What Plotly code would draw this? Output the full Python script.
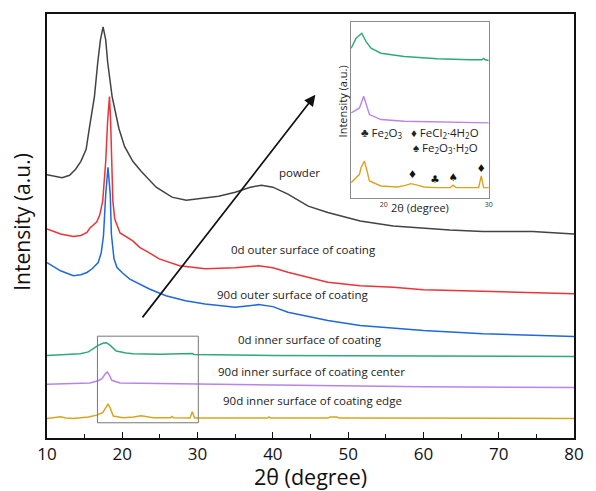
import plotly.graph_objects as go

# ---------------- main pattern data (2theta in degree, intensity in a.u.) ----------------
powder_x = [10, 11, 12, 13, 13.8, 14.5, 15.2, 15.6, 16.3, 16.75, 17.1, 17.45, 17.8, 18.05, 18.65,
            19.55, 20.3, 21.4, 22.5, 24.5, 26.6, 28.5, 30.2, 32.8, 35, 37, 38.5, 40, 42, 44.7,
            47.3, 51.6, 56, 60, 63.5, 67.9, 74.5, 80]
powder_y = [264.5, 263, 261.5, 264, 270, 278, 290, 310, 343, 378, 400, 413, 400, 378, 343,
            311, 293, 278, 268, 252, 242, 239, 240.5, 243, 247, 252, 254, 252, 245, 233,
            226.5, 218, 213, 210.5, 209, 207.5, 207.5, 205]

outer0_x = [10, 11, 11.8, 13.5, 14.5, 15.3, 15.7, 16.6, 17.0, 17.4, 17.8, 18.05, 18.3, 18.45,
            18.6, 18.75, 19.0, 19.4, 19.7, 21.4, 22.3, 23.6, 24.9, 27.6, 31, 35, 38.1, 40, 42,
            47.3, 51.6, 56, 60, 67.9, 80]
outer0_y = [210, 207, 205, 202.5, 203.5, 206.5, 211, 217, 224, 238, 278, 318, 343, 318,
            278, 238, 220, 212, 206, 198, 191.5, 186, 180, 173, 170, 171, 173, 171, 166.5,
            156.5, 153, 151.5, 149, 147.5, 145]

outer90_x = [10, 11, 11.8, 13.5, 14.5, 15.3, 16, 16.8, 17.2, 17.5, 17.8, 18.1, 18.4, 18.55,
             18.9, 19.3, 20, 21, 23.6, 25.8, 28.4, 31, 35, 38.1, 40, 42, 47.3, 51.6, 56, 60,
             67.9, 80]
outer90_y = [176.3, 172, 168, 163, 164, 166.3, 170, 176.3, 186, 203, 245, 272, 245, 205,
             180, 171.3, 166, 159.7, 149.7, 143, 138, 134.7, 131.3, 134, 132, 126.3, 118, 113,
             110.7, 108, 104.7, 102]

inner0_x = [10, 12, 14.4, 15.5, 16.1, 16.8, 17.5, 17.9, 18.4, 19.2, 20.5, 21.4, 25, 29.1,
            29.3, 29.5, 40, 60, 80]
inner0_y = [83, 83.5, 84.7, 86.5, 89.7, 93, 95.5, 95.7, 93, 87.3, 85.5, 84.7, 84.2, 84.3,
            85, 84, 83, 82.5, 82]

center90_x = [10, 14, 15.7, 16.8, 17.3, 17.7, 18.0, 18.3, 18.6, 19.7, 26.7, 40, 60, 80]
center90_y = [54, 54.5, 55.3, 57.5, 59.7, 64, 66.3, 63, 58, 55.3, 54.7, 53, 51.5, 50.7]

edge90_x = [10, 11.3, 11.8, 12.5, 13.5, 15.5, 16.6, 17.4, 17.8, 18.1, 18.4, 18.8, 20.1, 21.5,
            22.5, 23.3, 24.1, 26.4, 26.6, 26.8, 29.0, 29.3, 29.6, 39.3, 39.5, 39.7, 47.3,
            47.6, 48.5, 48.8, 80]
edge90_y = [19.7, 20.5, 21.3, 20, 19.7, 21, 23, 25.5, 31, 34, 30, 22, 20.3, 21,
            22.3, 21, 20.3, 20.3, 21.7, 20.3, 20, 26.3, 20, 20, 21.2, 20, 20,
            21, 21, 20, 19.7]

# ---------------- inset data (17-30 degree zoom) ----------------
in_green_x = [16.91, 17.38, 17.92, 18.33, 18.8, 19.74, 21.96, 25.1, 28.26, 29.37, 29.52, 29.68, 30]
in_green_y = [150, 160, 165, 156.7, 150, 145, 141.7, 139.4, 138.4, 138.4, 139.7, 138.4, 137.7]

in_purple_x = [16.91, 17.7, 18.1, 18.65, 19.74, 21.96, 30]
in_purple_y = [85, 90, 101.7, 83.4, 78.4, 76.7, 75]

in_gold_x = [16.91, 17.7, 17.85, 18.17, 18.42, 18.65, 19.74, 21.3, 22.0, 22.6, 23.2, 23.85,
             24.95, 26.37, 26.6, 26.9, 29.05, 29.3, 29.52, 30]
in_gold_y = [15, 23.4, 30, 36.7, 26.7, 16.7, 11.7, 10.7, 12, 14, 12.5, 10.7,
             10, 10, 12.4, 10, 10, 21.7, 10, 10]

phase_marks = ["\u2666", "\u2663", "\u2660", "\u2666"]
phase_x = [22.74, 24.89, 26.62, 29.3]
phase_y = [22.7, 17.7, 19.4, 28.4]

labels = ["powder", "0d outer surface of coating", "90d outer surface of coating",
          "0d inner surface of coating", "90d inner surface of coating center",
          "90d inner surface of coating edge"]
label_x = [43.6, 44.1, 42.65, 44.9, 45.07, 45.3]
label_y = [266.3, 189.7, 144, 98.7, 67.3, 37.3]

main_ticks = [10, 20, 30, 40, 50, 60, 70, 80]

colors = ["#434343", "#ec3438", "#1f68dd", "#2fa87a", "#b884ea", "#d9a51f"]
FONT = "Open Sans"

fig = go.Figure()
series = [(powder_x, powder_y), (outer0_x, outer0_y), (outer90_x, outer90_y),
          (inner0_x, inner0_y), (center90_x, center90_y), (edge90_x, edge90_y)]
for (xs, ys), c, name in zip(series, colors, labels):
    fig.add_trace(go.Scatter(x=xs, y=ys, mode="lines", name=name,
                             line=dict(color=c, width=1.5), showlegend=False,
                             xaxis="x", yaxis="y"))

for xs, ys, c in [(in_green_x, in_green_y, colors[3]), (in_purple_x, in_purple_y, colors[4]),
                  (in_gold_x, in_gold_y, colors[5])]:
    fig.add_trace(go.Scatter(x=xs, y=ys, mode="lines", line=dict(color=c, width=1.4),
                             showlegend=False, xaxis="x2", yaxis="y2"))

fig.add_trace(go.Scatter(x=phase_x, y=phase_y, mode="text", text=phase_marks,
                         textfont=dict(size=10.5, color="#111", family="DejaVu Sans"),
                         showlegend=False, xaxis="x2", yaxis="y2"))

annotations = []
for t, xx, yy in zip(labels, label_x, label_y):
    annotations.append(dict(x=xx, y=yy, xref="x", yref="y", text=t, showarrow=False,
                            xanchor="center", yanchor="middle",
                            font=dict(family=FONT, size=11.5, color="#222")))

# arrow
annotations.append(dict(x=45.65, y=344.8, ax=22.53, ay=119.7, xref="x", yref="y",
                        axref="x", ayref="y", showarrow=True, arrowhead=2, arrowsize=1.3,
                        arrowwidth=1.7, arrowcolor="#111", text=""))

# axis titles
annotations.append(dict(x=0.5, y=0, xref="paper", yref="paper", xanchor="center",
                        yanchor="middle", yshift=-38, text="2\u03b8 (degree)", showarrow=False,
                        font=dict(family=FONT, size=21.5, color="#111")))
annotations.append(dict(x=0, y=0.51, xref="paper", yref="paper", xanchor="center",
                        yanchor="middle", xshift=-25, text="Intensity (a.u.)", textangle=-90,
                        showarrow=False, font=dict(family=FONT, size=21, color="#111")))

# inset titles and phase legend
annotations.append(dict(x=0.7087, y=0.543, xref="paper", yref="paper", xanchor="center",
                        yanchor="middle", text="2\u03b8 (degree)", showarrow=False,
                        font=dict(family=FONT, size=11, color="#222")))
annotations.append(dict(x=0.561, y=0.793, xref="paper", yref="paper", xanchor="center",
                        yanchor="middle", text="Intensity (a.u.)", textangle=-90,
                        showarrow=False, font=dict(family=FONT, size=11, color="#222")))
annotations.append(dict(x=(361 - 47) / 531, y=(438 - 131.7) / 426, xref="paper", yref="paper",
                        xanchor="left", yanchor="middle", showarrow=False,
                        text="\u2663 Fe<sub>2</sub>O<sub>3</sub>",
                        font=dict(family=FONT, size=11.5, color="#222")))
annotations.append(dict(x=(412 - 47) / 531, y=(438 - 131.7) / 426, xref="paper", yref="paper",
                        xanchor="left", yanchor="middle", showarrow=False,
                        text="\u2666 FeCl<sub>2</sub>\u00b74H<sub>2</sub>O",
                        font=dict(family=FONT, size=11.5, color="#222")))
annotations.append(dict(x=(414 - 47) / 531, y=(438 - 146.7) / 426, xref="paper", yref="paper",
                        xanchor="left", yanchor="middle", showarrow=False,
                        text="\u2660 Fe<sub>2</sub>O<sub>3</sub>\u00b7H<sub>2</sub>O",
                        font=dict(family=FONT, size=11.5, color="#222")))

fig.update_layout(
    width=596, height=491,
    margin=dict(l=47, r=18, t=12, b=53),
    paper_bgcolor="white", plot_bgcolor="white",
    font=dict(family=FONT, color="#111"),
    xaxis=dict(range=[10, 80], tickvals=main_ticks, ticks="inside", ticklen=6, tickwidth=1.3,
               tickcolor="#111", showline=True, linecolor="#111", linewidth=1.5, mirror=True,
               showgrid=False, zeroline=False, tickfont=dict(size=17, family=FONT, color="#111"),
               minor=dict(dtick=5, tick0=10, ticks="inside", ticklen=4, tickwidth=1.2,
                          tickcolor="#111", showgrid=False)),
    yaxis=dict(range=[0, 426], showticklabels=False, ticks="", showline=True, linecolor="#111",
               linewidth=1.5, mirror=True, showgrid=False, zeroline=False),
    xaxis2=dict(domain=[0.577, 0.839], anchor="y2", range=[16.9, 30.05], tickvals=[20, 30],
                ticks="", showline=True, linecolor="#8a8a8a", linewidth=1, mirror=True,
                showgrid=False, zeroline=False, tickfont=dict(size=7, family=FONT, color="#333")),
    yaxis2=dict(domain=[0.567, 0.982], anchor="x2", range=[0, 176.7], showticklabels=False,
                ticks="", showline=True, linecolor="#8a8a8a", linewidth=1, mirror=True,
                showgrid=False, zeroline=False),
    shapes=[dict(type="rect", xref="x", yref="y", x0=16.7, x1=30.1, y0=15.3, y1=102.3,
                 line=dict(color="#777", width=1))],
    annotations=annotations,
)

fig.write_html("out.html")
